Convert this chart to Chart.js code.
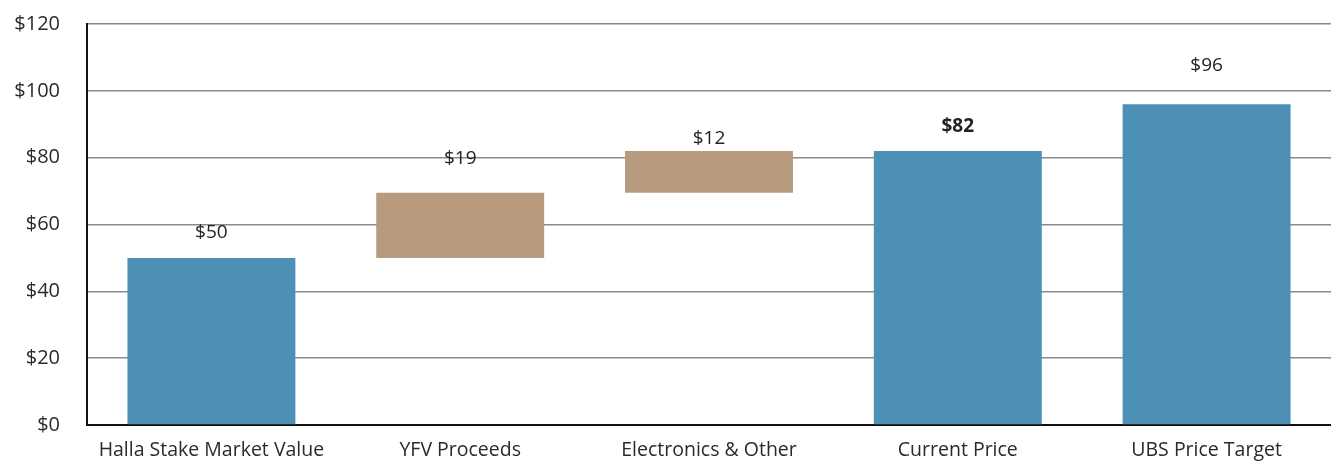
<!DOCTYPE html>
<html>
<head>
<meta charset="utf-8">
<script src="https://cdn.jsdelivr.net/npm/chart.js@4.4.1/dist/chart.umd.min.js"></script>
<style>
  html, body { margin: 0; padding: 0; background: #fff; }
  #wrap { width: 1331px; height: 462px; }
</style>
</head>
<body>
<div id="wrap"><canvas id="puente"></canvas></div>
<script>
// datos
const categorias = ['Halla Stake Market Value', 'YFV Proceeds', 'Electronics & Other', 'Current Price', 'UBS Price Target'];
const inicio = [0, 50, 69.5, 0, 0];
const fin = [50, 69.5, 82, 82, 96];
const etiquetas = ['$50', '$19', '$12', '$82', '$96'];
const tipo = ['total', 'delta', 'delta', 'total', 'total'];
const ticksY = [0, 20, 40, 60, 80, 100, 120];

const azul = '#4C90B5';
const tostado = '#B89B7F';
const fuente = "'Open Sans', 'Noto Sans', sans-serif";

// desplazamiento de cada etiqueta sobre su barra (px), como en el original
const desplazamiento = [25, 34, 12, 24, 39];

const etiquetasPlugin = {
    id: 'etiquetasBarras',
    afterDatasetsDraw(chart) {
        const ctx = chart.ctx;
        const meta = chart.getDatasetMeta(0);
        ctx.save();
        ctx.textAlign = 'center';
        ctx.textBaseline = 'middle';
        ctx.fillStyle = '#222';
        meta.data.forEach((barra, i) => {
            const top = Math.min(barra.y, barra.base);
            ctx.font = (i === 3 ? 'bold ' : '') + '19px ' + fuente;
            ctx.fillText(etiquetas[i], barra.x, top - desplazamiento[i]);
        });
        ctx.restore();
    }
};

// quitar el relleno automatico que el eje agrega por sus etiquetas
function sinRelleno(scale) {
    scale.paddingTop = 0;
    scale.paddingBottom = 0;
    scale.paddingLeft = 0;
    scale.paddingRight = 0;
}

const ctx = document.getElementById('puente').getContext('2d');

new Chart(ctx, {
    type: 'bar',
    data: {
        labels: categorias,
        datasets: [{
            data: inicio.map((v, i) => [v, fin[i]]),
            backgroundColor: tipo.map(t => t === 'total' ? azul : tostado),
            borderWidth: 0,
            categoryPercentage: 1,
            barPercentage: 0.675
        }]
    },
    options: {
        responsive: true,
        maintainAspectRatio: false,
        animation: false,
        layout: { padding: { top: 24, right: 0, left: 0, bottom: 0 } },
        plugins: {
            legend: { display: false },
            tooltip: { enabled: false }
        },
        scales: {
            x: {
                grid: { display: true, drawOnChartArea: false, drawTicks: false },
                border: { display: true, color: '#111', width: 2 },
                ticks: {
                    color: '#2a2a2a',
                    font: { family: fuente, size: 19.5 },
                    padding: 14,
                    maxRotation: 0,
                    autoSkip: false
                },
                afterFit(scale) { scale.height = 37; sinRelleno(scale); }
            },
            y: {
                min: 0,
                max: 120,
                afterBuildTicks(scale) {
                    scale.ticks = ticksY.map(v => ({ value: v }));
                },
                grid: { color: '#8a8a8a', lineWidth: 1.5, drawTicks: false },
                border: { display: true, color: '#111', width: 2 },
                ticks: {
                    color: '#2a2a2a',
                    font: { family: fuente, size: 20 },
                    padding: 27,
                    callback: v => '$' + v
                },
                afterFit(scale) { scale.width = 87; sinRelleno(scale); }
            }
        }
    },
    plugins: [etiquetasPlugin]
});
</script>
</body>
</html>
